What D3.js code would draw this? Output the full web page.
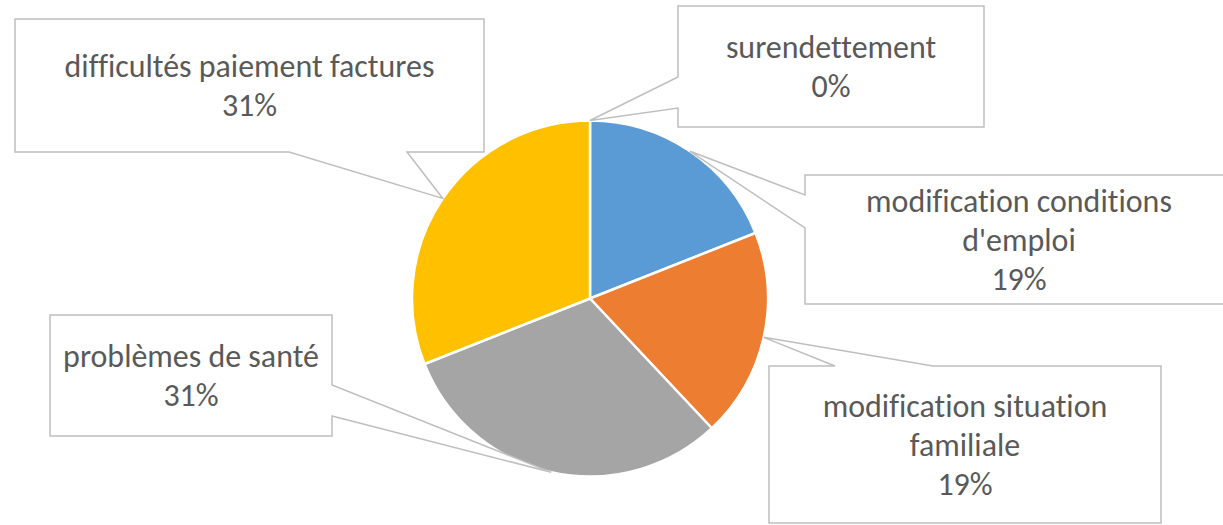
<!DOCTYPE html>
<html>
<head>
<meta charset="utf-8">
<script src="https://cdn.jsdelivr.net/npm/d3@7/dist/d3.min.js"></script>
<style>
  html, body { margin: 0; padding: 0; background: #fff; }
  svg { display: block; }
  text { font-variant-ligatures: none; font-feature-settings: "liga" 0, "clig" 0; }
</style>
</head>
<body>
<svg id="chart" width="1223" height="525"></svg>
<script>
// ---- Data ----
const categories = [
  "surendettement",
  "modification conditions d'emploi",
  "modification situation familiale",
  "problèmes de santé",
  "difficultés paiement factures"
];
const values = [0, 19, 19, 31, 31];
// label line breaks as shown in the callouts
const labelLines = [
  ["surendettement"],
  ["modification conditions", "d'emploi"],
  ["modification situation", "familiale"],
  ["problèmes de santé"],
  ["difficultés paiement factures"]
];
const colors = ["#5B9BD5", "#5B9BD5", "#ED7D31", "#A5A5A5", "#FFC000"];

// ---- Layout (callout boxes: rect + side where the pointer leaves, base segment) ----
const callouts = [
  { x0: 678, y0: 6,   x1: 984,  y1: 127, side: "left",   b0: 77,  b1: 108 },
  { x0: 805, y0: 175, x1: 1233, y1: 304, side: "left",   b0: 195, b1: 228 },
  { x0: 769, y0: 366, x1: 1161, y1: 523, side: "top",    b0: 835, b1: 933 },
  { x0: 50,  y0: 315, x1: 332,  y1: 436, side: "right",  b0: 385, b1: 416 },
  { x0: 15,  y0: 19,  x1: 484,  y1: 152, side: "bottom", b0: 289, b1: 407 }
];

const svg = d3.select("#chart");
const cx = 590, cy = 298.5, r = 178;

const pie = d3.pie().sort(null).value(d => d).startAngle(0).endAngle(2 * Math.PI);
const arcs = pie(values);
const arc = d3.arc().innerRadius(0).outerRadius(r);
const total = d3.sum(values);

const g = svg.append("g").attr("transform", `translate(${cx},${cy})`);
g.selectAll("path.slice")
  .data(arcs)
  .join("path")
  .attr("class", "slice")
  .attr("d", arc)
  .attr("fill", (d, i) => colors[i])
  .attr("stroke", "#ffffff")
  .attr("stroke-width", 2.5)
  .attr("stroke-linejoin", "round");

// ---- Callouts ----
function tipOf(a) {
  const m = (a.startAngle + a.endAngle) / 2;
  return [cx + r * Math.sin(m), cy - r * Math.cos(m)];
}
function calloutPath(c, tip) {
  const { x0, y0, x1, y1, side, b0, b1 } = c;
  const t = `L${tip[0]},${tip[1]}`;
  switch (side) {
    case "left":
      return `M${x0},${y0}L${x1},${y0}L${x1},${y1}L${x0},${y1}L${x0},${b1}${t}L${x0},${b0}Z`;
    case "right":
      return `M${x0},${y0}L${x1},${y0}L${x1},${b0}${t}L${x1},${b1}L${x1},${y1}L${x0},${y1}Z`;
    case "top":
      return `M${x0},${y0}L${b0},${y0}${t}L${b1},${y0}L${x1},${y0}L${x1},${y1}L${x0},${y1}Z`;
    case "bottom":
      return `M${x0},${y0}L${x1},${y0}L${x1},${y1}L${b1},${y1}${t}L${b0},${y1}L${x0},${y1}Z`;
  }
}

const fontFamily = "Carlito, Calibri, Lato, 'Open Sans', sans-serif";
// fit font so that the longest label has the reference width
const probe = svg.append("text").attr("font-family", fontFamily).attr("font-size", 29)
  .text("difficultés paiement factures");
const w = probe.node().getComputedTextLength();
probe.remove();
const fontSize = 29 * 370 / w;
const lineH = 39;

const cg = svg.append("g");
arcs.forEach((a, i) => {
  const c = callouts[i];
  const tip = tipOf(a);
  cg.append("path")
    .attr("d", calloutPath(c, tip))
    .attr("fill", "#ffffff")
    .attr("stroke", "#BFBFBF")
    .attr("stroke-width", 1.5)
    .attr("stroke-linejoin", "miter");

  const lines = labelLines[i].concat([Math.round(values[i] / total * 100) + "%"]);
  const mx = (c.x0 + c.x1) / 2;
  const bx = (c.x1 > 1223) ? 1019 : mx;
  const my = (c.y0 + c.y1) / 2;
  const first = my + 11 - (lines.length - 1) * lineH / 2;
  const t = cg.append("text")
    .attr("font-family", fontFamily)
    .attr("font-size", fontSize)
    .attr("fill", "#595959")
    .attr("text-anchor", "middle");
  lines.forEach((l, k) => {
    t.append("tspan").attr("x", bx).attr("y", first + k * lineH).text(l);
  });
});
</script>
</body>
</html>
